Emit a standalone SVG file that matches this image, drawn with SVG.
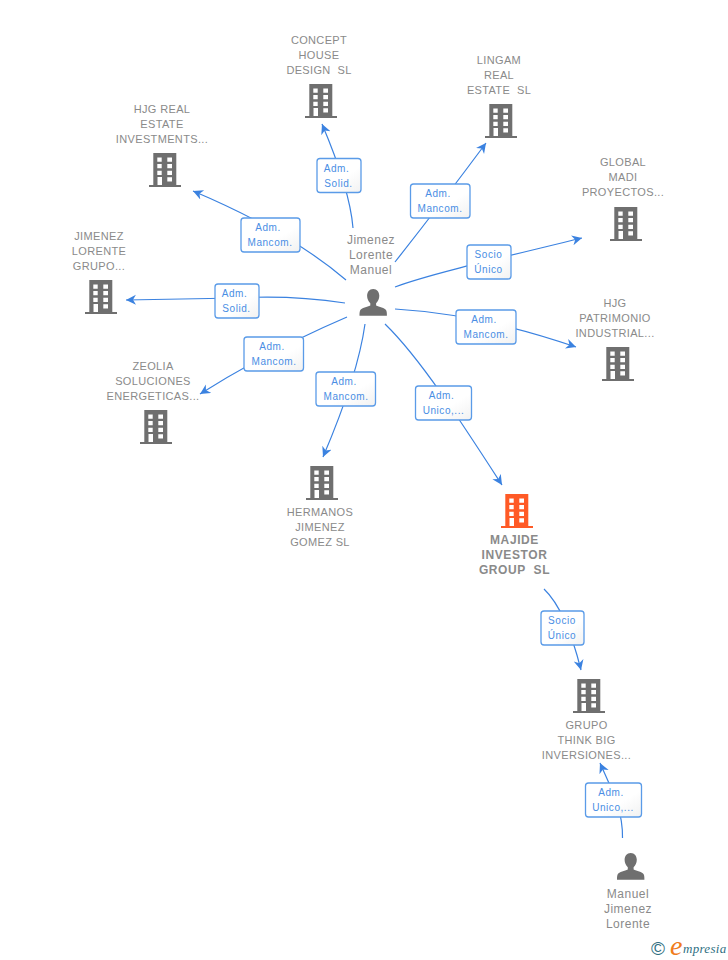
<svg xmlns="http://www.w3.org/2000/svg" width="728" height="960" viewBox="0 0 728 960">
<style>
text{font-family:"Liberation Sans",Arial,sans-serif}
.n{font-size:11px;fill:#8a8a8a;text-anchor:middle;letter-spacing:.35px}
.p{font-size:12px;letter-spacing:.5px}
.b{font-weight:bold;font-size:12px;letter-spacing:.6px}
.l{font-size:10px;fill:#4a8ee4;text-anchor:middle;letter-spacing:.55px}
.box{fill:url(#g);stroke:#5a9be8;stroke-width:1.3}
.c{fill:none;stroke:#3b82e0;stroke-width:1.2;marker-end:url(#a)}
</style>
<defs>
<linearGradient id="g" x1="0" y1="0" x2="1" y2="1"><stop offset="0" stop-color="#fff"/><stop offset=".6" stop-color="#fff"/><stop offset="1" stop-color="#f1f1f1"/></linearGradient>
<marker id="a" markerUnits="userSpaceOnUse" markerWidth="12" markerHeight="12" refX="10" refY="5" orient="auto"><path d="M0 0L10 5L0 10L3 5Z" fill="#3b82e0"/></marker>
<symbol id="bld" overflow="visible"><path fill-rule="evenodd" d="M4.3 0H27.3V32H32V34H0V32H4.3ZM8.3 4.5V8.8H12.7V4.5ZM18.3 4.5V8.8H23V4.5ZM8.3 11V15.3H12.7V11ZM18.3 11V15.3H23V11ZM8.3 17.7V22H12.7V17.7ZM18.3 17.7V22H23V17.7ZM8.5 24V32H13V24ZM18.3 24.3V28.6H23V24.3Z"/></symbol>
<symbol id="per" overflow="visible"><path fill="#6f6f6f" d="M13.7 0C9.8 0 7.6 3 7.6 6.8C7.6 10 9 12.5 10.8 14.2V16.4C8 18 2 18.5.6 21.5C0 23 0 25 0 26.7H27.4C27.4 25 27.4 23 26.8 21.5C25.4 18.5 19.4 18 16.6 16.4V14.2C18.4 12.5 19.8 10 19.8 6.8C19.8 3 17.6 0 13.7 0Z"/></symbol>
</defs>
<rect width="728" height="960" fill="#fff"/>
<g id="connectors">
<path class="c" d="M353 228Q350 190 322 124"/>
<path class="c" d="M395 262Q440 205 486 143"/>
<path class="c" d="M395 287C430 274 500 258 582 238"/>
<path class="c" d="M395 309Q480 314 576 347"/>
<path class="c" d="M385 324C420 358 460 420 502 485"/>
<path class="c" d="M365 324Q358 375 323 457"/>
<path class="c" d="M347 317Q270 350 200 394"/>
<path class="c" d="M345 303C305 297 270 296 237 298L126 300"/>
<path class="c" d="M346 280Q290 232 193 191"/>
<path class="c" d="M544 589Q566 610 581 670"/>
<path class="c" d="M622.500 838C623 810 612 790 600 763"/>
</g>
<g id="label-1"><rect class="box" x="317" y="158.500" width="44" height="34" rx="3"/><text class="l" x="336.500" y="172">Adm.</text><text class="l" x="338.500" y="187">Solid.</text></g>
<g id="label-2"><rect class="box" x="410.500" y="184" width="59.500" height="34" rx="3"/><text class="l" x="438" y="197">Adm.</text><text class="l" x="440" y="212">Mancom.</text></g>
<g id="label-3"><rect class="box" x="241" y="218" width="59" height="34" rx="3"/><text class="l" x="268" y="231">Adm.</text><text class="l" x="270" y="246">Mancom.</text></g>
<g id="label-4"><rect class="box" x="467" y="245" width="44" height="34" rx="3"/><text class="l" x="488.500" y="258">Socio</text><text class="l" x="488.500" y="273">Único</text></g>
<g id="label-5"><rect class="box" x="215" y="284" width="44" height="34" rx="3"/><text class="l" x="234.500" y="297">Adm.</text><text class="l" x="236.500" y="312">Solid.</text></g>
<g id="label-6"><rect class="box" x="456" y="310" width="60" height="34" rx="3"/><text class="l" x="484" y="323">Adm.</text><text class="l" x="486" y="338">Mancom.</text></g>
<g id="label-7"><rect class="box" x="244" y="337" width="59.500" height="34" rx="3"/><text class="l" x="272" y="350">Adm.</text><text class="l" x="274" y="365">Mancom.</text></g>
<g id="label-8"><rect class="box" x="316" y="372" width="59.500" height="34" rx="3"/><text class="l" x="344" y="385">Adm.</text><text class="l" x="346" y="400">Mancom.</text></g>
<g id="label-9"><rect class="box" x="415.500" y="386" width="56" height="34" rx="3"/><text class="l" x="441.500" y="399">Adm.</text><text class="l" x="443.500" y="414">Unico,...</text></g>
<g id="label-10"><rect class="box" x="541" y="611" width="43" height="34" rx="3"/><text class="l" x="562" y="624">Socio</text><text class="l" x="562" y="639">Único</text></g>
<g id="label-11"><rect class="box" x="585.500" y="783" width="56" height="34" rx="3"/><text class="l" x="611" y="796">Adm.</text><text class="l" x="613" y="811">Unico,...</text></g>
<g id="concept"><use href="#bld" x="305" y="84" fill="#6f6f6f"/><text class="n" x="319" y="44">CONCEPT</text><text class="n" x="319" y="59">HOUSE</text><text class="n" x="319" y="74" xml:space="preserve">DESIGN  SL</text></g>
<g id="lingam"><use href="#bld" x="485" y="104" fill="#6f6f6f"/><text class="n" x="499" y="64">LINGAM</text><text class="n" x="499" y="79">REAL</text><text class="n" x="499" y="94" xml:space="preserve">ESTATE  SL</text></g>
<g id="hjg-real"><use href="#bld" x="149" y="153" fill="#6f6f6f"/><text class="n" x="162" y="113">HJG REAL</text><text class="n" x="162" y="128">ESTATE</text><text class="n" x="162" y="143">INVESTMENTS...</text></g>
<g id="global"><use href="#bld" x="610" y="207" fill="#6f6f6f"/><text class="n" x="623" y="166">GLOBAL</text><text class="n" x="623" y="181">MADI</text><text class="n" x="623" y="196">PROYECTOS...</text></g>
<g id="jimenez-grupo"><use href="#bld" x="85" y="280" fill="#6f6f6f"/><text class="n" x="99" y="240">JIMENEZ</text><text class="n" x="99" y="255">LORENTE</text><text class="n" x="99" y="270">GRUPO...</text></g>
<g id="hjg-patrimonio"><use href="#bld" x="602" y="347" fill="#6f6f6f"/><text class="n" x="615" y="307">HJG</text><text class="n" x="615" y="322">PATRIMONIO</text><text class="n" x="615" y="337">INDUSTRIAL...</text></g>
<g id="zeolia"><use href="#bld" x="140" y="410" fill="#6f6f6f"/><text class="n" x="153" y="370">ZEOLIA</text><text class="n" x="153" y="385">SOLUCIONES</text><text class="n" x="153" y="400">ENERGETICAS...</text></g>
<g id="hermanos"><use href="#bld" x="306" y="466" fill="#6f6f6f"/><text class="n" x="320" y="516">HERMANOS</text><text class="n" x="320" y="531">JIMENEZ</text><text class="n" x="320" y="546">GOMEZ SL</text></g>
<g id="majide"><use href="#bld" x="501" y="494" fill="#ff5a26"/><text class="n b" x="514.500" y="544">MAJIDE</text><text class="n b" x="514.500" y="559">INVESTOR</text><text class="n b" x="514.500" y="574" xml:space="preserve">GROUP  SL</text></g>
<g id="grupo"><use href="#bld" x="573" y="679" fill="#6f6f6f"/><text class="n" x="586.500" y="729">GRUPO</text><text class="n" x="586.500" y="744">THINK BIG</text><text class="n" x="586.500" y="759">INVERSIONES...</text></g>
<g id="jimenez-lorente-manuel"><use href="#per" x="359.500" y="289"/><text class="n p" x="371" y="244">Jimenez</text><text class="n p" x="371" y="259">Lorente</text><text class="n p" x="371" y="274">Manuel</text></g>
<g id="manuel-jimenez-lorente"><use href="#per" x="617" y="853"/><text class="n p" x="628" y="898">Manuel</text><text class="n p" x="628" y="913">Jimenez</text><text class="n p" x="628" y="928">Lorente</text></g>
<g id="logo"><text x="651" y="955" font-size="19" fill="#2f6f82">©</text><text x="670" y="955" font-size="28" font-style="italic" fill="#f07c1c" style="font-family:'Liberation Serif',serif">e</text><text x="683" y="953" font-size="13" font-style="italic" fill="#2f6f82" style="font-family:'Liberation Serif',serif" letter-spacing=".3">mpresia</text></g>
</svg>
